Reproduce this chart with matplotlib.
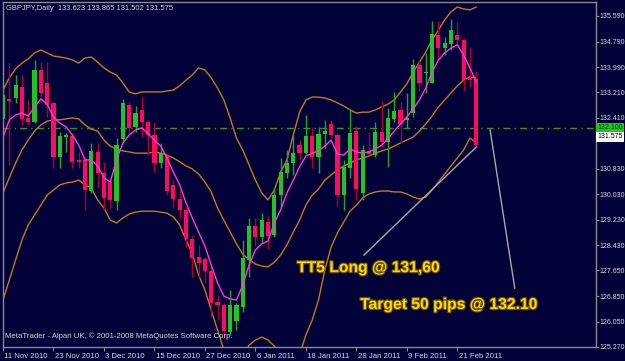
import matplotlib
matplotlib.use("Agg")
import matplotlib.pyplot as plt
import matplotlib.patheffects as pe
import matplotlib.transforms as mtransforms
import numpy as np
import pandas as pd

# ---------------- data ----------------
header = "GBPJPY,Daily  133.623 133.865 131.502 131.575"
first_day = "2010-11-11"

opens = [132.38, 133.00, 133.03, 133.37, 132.41, 132.28, 133.91, 133.50, 132.88, 131.19,
         131.81, 131.85, 131.10, 131.10, 130.13, 131.35, 130.69, 130.41, 129.82, 131.75,
         132.81, 132.13, 132.66, 132.28, 131.88, 131.00, 131.25, 130.32, 129.88, 129.54,
         128.63, 128.07, 128.01, 127.63, 126.67, 126.57, 125.73, 126.07, 126.51, 127.98,
         129.04, 128.70, 129.16, 128.76, 130.00, 130.69, 131.00, 131.56, 131.31, 131.85,
         131.19, 131.91, 132.22, 131.88, 130.00, 130.85, 132.00, 130.07, 131.38, 131.25,
         131.97, 131.66, 132.38, 132.66, 132.35, 132.56, 134.06, 133.81, 133.50, 135.00,
         134.59, 134.72, 135.00, 134.84, 133.66, 133.623]
highs = [133.34, 134.12, 133.75, 133.75, 132.97, 134.22, 134.15, 134.15, 132.91, 131.97,
         131.94, 131.94, 131.35, 131.19, 131.63, 131.63, 131.04, 130.50, 131.78, 133.00,
         132.91, 132.78, 133.06, 132.35, 132.28, 131.63, 131.31, 130.47, 130.16, 129.63,
         128.76, 128.45, 128.07, 127.82, 126.88, 126.64, 127.04, 126.64, 128.60, 129.29,
         129.29, 129.44, 129.35, 130.26, 131.16, 131.41, 131.88, 131.72, 132.50, 132.13,
         132.13, 132.35, 132.35, 131.94, 131.10, 132.66, 132.16, 131.56, 131.97, 132.28,
         132.94, 132.72, 133.22, 132.91, 133.19, 134.25, 134.19, 134.44, 135.43, 135.43,
         134.93, 135.50, 135.40, 134.90, 134.62, 133.865]
lows = [132.28, 130.94, 132.88, 132.19, 132.19, 132.25, 132.91, 132.44, 130.85, 130.85,
        131.35, 130.85, 130.85, 129.54, 130.07, 130.22, 129.54, 129.60, 129.54, 131.63,
        131.94, 131.97, 131.81, 131.25, 130.72, 130.85, 130.00, 129.60, 129.29, 128.38,
        127.45, 127.45, 127.26, 126.20, 126.10, 125.54, 125.64, 125.79, 126.35, 127.45,
        128.41, 128.54, 128.32, 128.70, 129.63, 130.54, 130.63, 131.10, 131.28, 130.85,
        130.69, 131.47, 131.78, 129.66, 129.54, 130.54, 129.85, 129.85, 131.25, 131.19,
        131.47, 130.88, 132.28, 131.63, 132.10, 132.44, 133.25, 133.19, 133.50, 134.28,
        134.37, 134.53, 134.62, 133.25, 133.37, 131.502]
closes = [133.12, 132.94, 133.44, 132.38, 132.28, 133.91, 133.19, 132.81, 131.19, 131.85,
          131.88, 131.04, 131.04, 130.16, 131.38, 130.69, 129.91, 129.85, 131.56, 132.88,
          132.10, 132.56, 132.28, 131.88, 131.00, 131.31, 130.13, 129.88, 129.54, 128.63,
          128.04, 127.88, 127.63, 126.64, 126.57, 125.76, 126.57, 126.57, 128.04, 129.04,
          128.70, 129.22, 128.73, 130.00, 130.72, 131.00, 131.31, 131.31, 131.85, 131.19,
          131.91, 132.00, 131.88, 130.00, 130.88, 131.94, 130.19, 131.41, 131.28, 131.97,
          131.66, 132.41, 132.63, 132.22, 132.41, 134.06, 133.50, 133.84, 135.03, 134.59,
          134.75, 135.15, 134.84, 133.59, 133.59, 131.575]

ma_fast = [131.81, 132.35, 132.50, 132.56, 132.47, 132.75, 133.00, 132.84, 132.44, 132.25,
           132.13, 131.88, 131.56, 131.10, 131.10, 130.91, 130.54, 130.41, 131.10, 131.63,
           131.88, 132.03, 132.10, 131.91, 131.72, 131.53, 131.16, 130.72, 130.32, 129.76,
           129.29, 128.85, 128.41, 127.82, 127.26, 126.85, 126.76, 126.73, 127.20, 127.82,
           128.29, 128.48, 128.57, 129.13, 129.54, 130.07, 130.47, 130.88, 131.22, 131.31,
           131.38, 131.53, 131.72, 131.28, 131.25, 131.44, 131.35, 131.31, 131.35, 131.44,
           131.56, 131.75, 132.00, 132.22, 132.44, 132.69, 132.97, 133.34, 133.84, 134.22,
           134.44, 134.59, 134.69, 134.37, 133.97, 133.53]

bb_upper = [133.28, 133.66, 133.94, 134.12, 134.25, 134.44, 134.53, 134.44, 134.34, 134.31,
            134.28, 134.22, 134.12, 134.28, 134.31, 134.15, 133.97, 133.84, 133.75, 133.50,
            133.22, 133.16, 133.22, 133.22, 133.22, 133.22, 133.25, 133.28, 133.41, 133.59,
            133.75, 133.97, 133.91, 133.66, 133.34, 132.97, 132.41, 131.78, 131.41, 130.94,
            130.47, 130.07, 129.85, 130.16, 130.72, 131.10, 131.88, 132.59, 132.97, 133.06,
            133.06, 133.03, 132.97, 132.88, 132.78, 132.66, 132.56, 132.59, 132.59, 132.66,
            132.75, 132.84, 132.97, 133.22, 133.47, 133.84, 134.15, 134.47, 134.84, 135.15,
            135.47, 135.72, 135.87, 135.81, 135.78, 135.87]
bb_middle = [130.07, 130.54, 131.00, 131.41, 131.72, 132.00, 132.19, 132.31, 132.35, 132.35,
             132.38, 132.41, 132.38, 132.19, 132.06, 132.00, 131.72, 131.53, 131.44, 131.38,
             131.35, 131.31, 131.31, 131.31, 131.35, 131.31, 131.25, 131.16, 131.04, 130.91,
             130.82, 130.66, 130.41, 130.10, 129.60, 129.22, 128.85, 128.48, 128.16, 127.98,
             127.85, 127.79, 127.76, 127.91, 128.13, 128.45, 128.85, 129.22, 129.69, 130.00,
             130.19, 130.47, 130.63, 130.79, 130.91, 131.00, 131.10, 131.16, 131.22, 131.31,
             131.38, 131.44, 131.53, 131.63, 131.72, 131.81, 132.00, 132.22, 132.47, 132.75,
             132.97, 133.19, 133.41, 133.59, 133.69, 133.66]
bb_lower = [126.73, 127.35, 127.98, 128.60, 129.07, 129.38, 129.69, 130.00, 130.16, 130.32,
            130.38, 130.41, 130.47, 130.32, 130.22, 129.85, 129.60, 129.22, 129.13, 129.29,
            129.41, 129.47, 129.50, 129.50, 129.50, 129.47, 129.44, 129.32, 129.07, 128.60,
            128.19, 127.51, 127.04, 126.42, 125.79, 125.17, 124.70, 124.70, 124.92, 125.32,
            125.48, 125.57, 125.48, 125.29, 125.01, 124.79, 124.70, 125.01, 125.64, 126.10,
            126.73, 127.66, 128.38, 128.82, 129.16, 129.50, 129.69, 129.91, 130.04, 130.10,
            130.13, 130.13, 130.10, 130.10, 130.04, 129.94, 129.88, 129.94, 130.16, 130.41,
            130.66, 130.91, 131.16, 131.41, 131.78, 131.63]

target_level = 132.10
price_ticks = [135.590, 134.790, 133.990, 133.210, 132.410, 130.830, 130.030,
               129.230, 128.430, 127.650, 126.850, 126.050, 125.270]
date_labels = ["11 Nov 2010", "23 Nov 2010", "3 Dec 2010", "15 Dec 2010", "27 Dec 2010",
               "6 Jan 2011", "18 Jan 2011", "28 Jan 2011", "9 Feb 2011", "21 Feb 2011"]

entry_text = "TT5 Long @ 131,60"
target_text = "Target 50 pips @ 132.10"
# trend lines drawn on the chart (bar index, price)
trend1_x = [57.2, 75.0]
trend1_y = [128.13, 131.50]
trend2_x = [77.2, 81.1]
trend2_y = [132.03, 127.10]

# ---------------- style ----------------
BG = "#020238"
FRAME = "#8a8a8a"
UP = "#22c322"
DOWN = "#ff0a5e"
UPWICK = "#1fa81f"
DOWNWICK = "#b0002a"
BAND = "#c27a16"
MAFAST = "#ff3ad0"
TXT = "#d8d8d8"

plt.rcParams["font.family"] = ["Liberation Sans", "DejaVu Sans"]

W, H = 625, 361
fig = plt.figure(figsize=(W / 100, H / 100), dpi=100, facecolor=BG)
left_px, right_px, top_px, bot_px = 2.5, 595.5, 2.0, 347.0
ax = fig.add_axes([left_px / W, 1 - bot_px / H, (right_px - left_px) / W, (bot_px - top_px) / H])
ax.set_facecolor(BG)

n = len(closes)
x = np.arange(n)
o = np.array(opens); c = np.array(closes); h = np.array(highs); l = np.array(lows)
up = c >= o

# indicators
ax.plot(x, bb_upper, color=BAND, lw=1.0, zorder=2)
ax.plot(x, bb_middle, color=BAND, lw=1.0, zorder=2)
ax.plot(x, bb_lower, color=BAND, lw=1.0, zorder=2)
ax.axhline(target_level, color="#2f9a10", lw=1.0, ls=(0, (5, 3, 1, 3)), zorder=1)

# candles
for i in range(n):
    col_w = UPWICK if up[i] else DOWNWICK
    ax.vlines(x[i], l[i], h[i], color=col_w, lw=1.0, zorder=3)
body_h = np.maximum(np.abs(c - o), 0.04)
body_b = np.minimum(o, c)
ax.bar(x, body_h, bottom=body_b, width=0.66,
       color=[UP if u else DOWN for u in up], edgecolor="none", zorder=4)

ax.plot(x, ma_fast, color=MAFAST, lw=1.0, zorder=5)

# trend lines
ax.plot(trend1_x, trend1_y, color="#a8a8a8", lw=1.0, zorder=5)
ax.plot(trend2_x, trend2_y, color="#a8a8a8", lw=1.0, zorder=5)

# annotations
stroke = [pe.withStroke(linewidth=1.6, foreground="#6b5200")]
ax.text(46.6, 127.60, entry_text, color="#ffd800", fontsize=11.3, fontweight="bold",
        ha="left", va="baseline", zorder=6, path_effects=stroke)
ax.text(56.6, 126.45, target_text, color="#ffd800", fontsize=11.3, fontweight="bold",
        ha="left", va="baseline", zorder=6, path_effects=stroke)

# axes limits
px_per_bar = 6.31
px_per_unit = 32.05
ax.set_xlim(-(3 - left_px) / px_per_bar, (right_px - 3) / px_per_bar)
ax.set_ylim(135.59 - (bot_px - 16) / px_per_unit, 135.59 + (16 - top_px) / px_per_unit)

for s in ax.spines.values():
    s.set_color(FRAME)
    s.set_linewidth(1.0)

# price axis
ax.yaxis.tick_right()
ax.set_yticks(price_ticks)
ax.set_yticklabels([f"{v:.3f}" for v in price_ticks])
ax.tick_params(axis="y", colors=FRAME, labelcolor=TXT, labelsize=5.0, length=2, width=0.8, pad=0.8)

# date axis
days = pd.bdate_range(first_day, periods=n)
day_str = [f"{d.day} {d.strftime('%b %Y')}" for d in days]
tick_idx = [day_str.index(s) for s in date_labels]
ax.set_xticks(tick_idx)
ax.set_xticklabels(date_labels)
ax.tick_params(axis="x", colors=FRAME, labelcolor=TXT, labelsize=5.6, length=3, width=0.8, pad=1.5)
off = mtransforms.ScaledTranslation(1.5 / 100, 0, fig.dpi_scale_trans)
for lab in ax.get_xticklabels():
    lab.set_horizontalalignment("left")
    lab.set_transform(lab.get_transform() + off)

# price tags on the axis
ax.annotate(f"{target_level:.3f}", xy=(1.0, target_level), xycoords=("axes fraction", "data"),
            xytext=(1.5, 0), textcoords="offset points", va="center", ha="left",
            fontsize=5.0, color="#0a4a0a",
            bbox=dict(boxstyle="square,pad=0.2", fc="#22c322", ec="none"), annotation_clip=False)
ax.annotate(f"{closes[-1]:.3f}", xy=(1.0, 131.82), xycoords=("axes fraction", "data"),
            xytext=(1.5, 0), textcoords="offset points", va="center", ha="left",
            fontsize=5.0, color="#000000",
            bbox=dict(boxstyle="square,pad=0.2", fc="#ffffff", ec="none"), annotation_clip=False)

fig.text(6 / W, 1 - 8 / H, header, color=TXT, fontsize=5.4, va="center", ha="left")
fig.text(5 / W, 1 - 336 / H, "MetaTrader - Alpari UK, \u00a9 2001-2008 MetaQuotes Software Corp.",
         color=TXT, fontsize=5.6, va="center", ha="left", zorder=10)

fig.savefig("out.png", dpi=100, facecolor=BG)
